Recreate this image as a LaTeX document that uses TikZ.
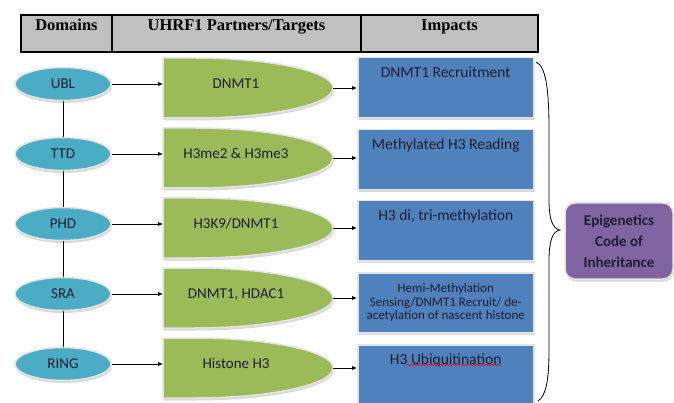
\documentclass[tikz,border=0pt]{standalone}
\usepackage{fontspec}
\setmainfont{Carlito}
\newfontfamily\headfont{Liberation Serif}
\usetikzlibrary{arrows.meta,positioning,shapes.geometric,shadows,decorations.pathmorphing}

\definecolor{headgray}{HTML}{C0C0C0}
\definecolor{domblue}{HTML}{4BACC6}
\definecolor{partgreen}{HTML}{9BBB59}
\definecolor{impblue}{HTML}{4F81BD}
\definecolor{codepurple}{HTML}{8064A2}
\definecolor{rim}{HTML}{E4E4E4}
\definecolor{ink}{HTML}{1E1E30}

\tikzset{
  headcell/.style={rectangle, draw=black, line width=1.2pt, fill=headgray, outer sep=0pt,
    inner xsep=0pt, inner ysep=4pt, text height=12pt, text depth=17pt,
    font=\headfont\bfseries\fontsize{16.5}{19}\selectfont},
  softshadow/.style={drop shadow={shadow xshift=0.8pt, shadow yshift=-2.5pt, opacity=0.3}},
  dombox/.style={ellipse, draw=rim, line width=1.5pt, fill=domblue, softshadow,
    minimum width=96pt, minimum height=33pt, inner sep=0pt, text=ink,
    font=\fontsize{15}{17}\selectfont},
  partfill/.style={draw=rim, line width=1.5pt, fill=partgreen, softshadow},
  partbox/.style={rectangle, minimum width=170pt, inner xsep=0pt, inner ysep=4pt, outer sep=0pt,
    text height=26.7pt, text depth=25.3pt, text=ink, font=\fontsize{15}{17}\selectfont,
    execute at end node=\hspace*{24pt}},
  impbox/.style={rectangle, draw=rim, line width=1.5pt, fill=impblue, softshadow,
    minimum width=176pt, minimum height=60pt, text=ink, anchor=north west,
    font=\fontsize{15.5}{17}\selectfont},
  imptop/.style={impbox, inner ysep=4pt, text height=15.5pt, text depth=36.5pt},
  codebox/.style={rectangle, rounded corners=10pt, draw=rim, line width=1.5pt, fill=codepurple,
    softshadow, minimum width=108pt, minimum height=76pt, align=center, text=ink,
    font=\bfseries\fontsize{15}{21}\selectfont},
  arr/.style={line width=0.8pt, -{Latex[length=5pt,width=4.5pt]}},
}

\newcommand{\partshape}[1]{%
  \filldraw[partfill] (163,#1) -- (195,#1) .. controls (271,#1) and (333,#1+13.4) .. (333,#1+30)
    .. controls (333,#1+46.6) and (271,#1+60) .. (195,#1+60) -- (163,#1+60) -- cycle;}

\begin{document}
\begin{tikzpicture}[x=1pt, y=-1pt, line width=0.8pt]

  \useasboundingbox (0,0) rectangle (674,403);

  \node [headcell, minimum width=91pt, anchor=north west] (hdom) at (21,15) {Domains};
  \node [headcell, minimum width=249pt, right=0pt of hdom] (hpart) {UHRF1 Partners/Targets};
  \node [headcell, minimum width=177pt, right=0pt of hpart] (himp) {Impacts};

  \node [dombox] (d1) at (63,84) {UBL};
  \node [dombox] (d2) at (63,154) {TTD};
  \node [dombox] (d3) at (63,224) {PHD};
  \node [dombox] (d4) at (63,294) {SRA};
  \node [dombox] (d5) at (63,364) {RING};

  \draw (d1) -- (d2);
  \draw (d2) -- (d3);
  \draw (d3) -- (d4);
  \draw (d4) -- (d5);

  \partshape{58}
  \partshape{128}
  \partshape{198}
  \partshape{268}
  \partshape{338}

  \node [partbox] (p1) at (248,88) {DNMT1};
  \node [partbox] (p2) at (248,158) {H3me2 \& H3me3};
  \node [partbox] (p3) at (248,228) {H3K9/DNMT1};
  \node [partbox] (p4) at (248,298) {DNMT1, HDAC1};
  \node [partbox] (p5) at (248,368) {Histone H3};

  \node [imptop] (i1) at (357,57) {DNMT1 Recruitment};
  \node [imptop] (i2) at (357,129) {Methylated H3 Reading};
  \node [imptop] (i3) at (357,200) {H3 di, tri-methylation};
  \node [impbox, align=center, inner ysep=0pt, font=\fontsize{13}{13.5}\selectfont] (i4) at (357,272)
    {Hemi-Methylation\\Sensing/DNMT1 Recruit/ de-\\acetylation of nascent histone};
  \node [imptop] (i5) at (357,344) {H3 Ubiquitination};

  \draw [red, line width=0.5pt, decorate, decoration={snake, amplitude=0.7pt, segment length=3pt}]
    (407,365) -- (501,365);

  \draw [arr] (d1.east) -- (d1.east -| p1.west);
  \draw [arr] (d2.east) -- (d2.east -| p2.west);
  \draw [arr] (d3.east) -- (d3.east -| p3.west);
  \draw [arr] (d4.east) -- (d4.east -| p4.west);
  \draw [arr] (d5.east) -- (d5.east -| p5.west);

  \draw [arr] (p1.east) -- (p1.east -| i1.west);
  \draw [arr] (p2.east) -- (p2.east -| i2.west);
  \draw [arr] (p3.east) -- (p3.east -| i3.west);
  \draw [arr] (p4.east) -- (p4.east -| i4.west);
  \draw [arr] (p5.east) -- (p5.east -| i5.west);

  \coordinate (btop) at (536,62);
  \coordinate (btip) at (560,230);
  \coordinate (bbot) at (538,401);
  \draw (btop) .. controls (546,66) and (549,90) .. (549,130) -- (549,200)
    .. controls (549,220) and (553,229) .. (btip)
    .. controls (553,231) and (549,240) .. (549,260) -- (549,350)
    .. controls (549,380) and (546,396) .. (bbot);

  \node [codebox] (code) at (619,241) {Epigenetics\\Code of\\Inheritance};

\end{tikzpicture}
\end{document}
